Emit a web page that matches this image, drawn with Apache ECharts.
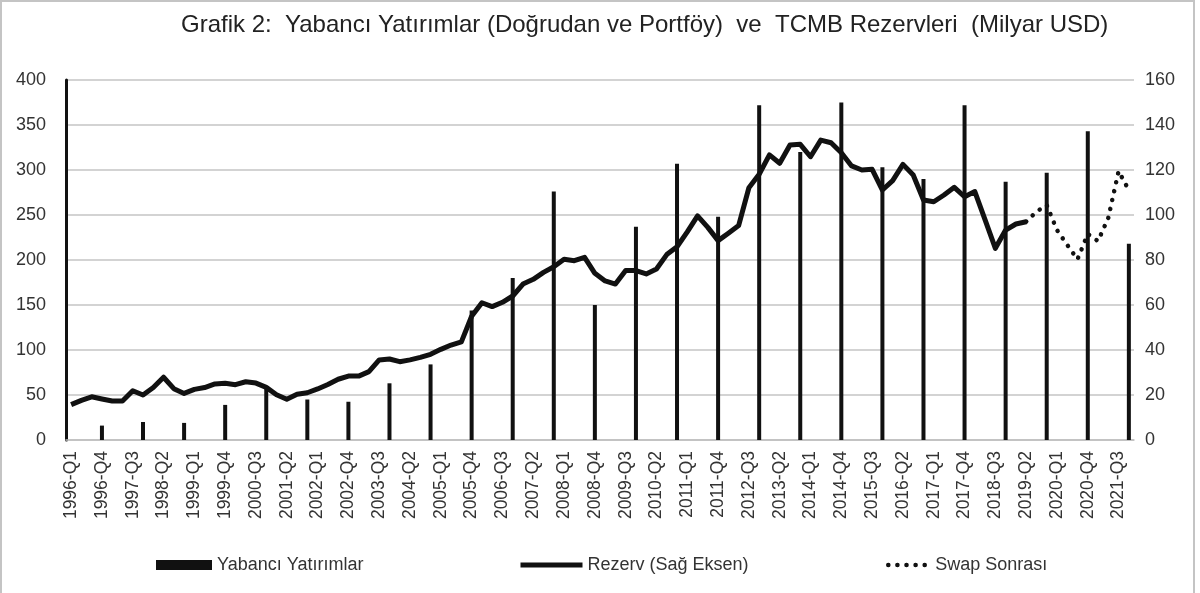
<!DOCTYPE html>
<html>
<head>
<meta charset="UTF-8">
<title>Grafik 2</title>
<style>
  html, body { margin: 0; padding: 0; background: #fff; }
  #chart { width: 1200px; height: 593px; }
</style>
<script src="https://cdn.jsdelivr.net/npm/echarts@6/dist/echarts.min.js"></script>
</head>
<body>
<div id="chart"></div>
<script>
// quarters 1996-Q1 ... 2021-Q4
var years = [1996, 1997, 1998, 1999, 2000, 2001, 2002, 2003, 2004, 2005, 2006, 2007, 2008,
             2009, 2010, 2011, 2012, 2013, 2014, 2015, 2016, 2017, 2018, 2019, 2020, 2021];
var quarters = [];
years.forEach(function (y) {
  ['Q1', 'Q2', 'Q3', 'Q4'].forEach(function (q) { quarters.push(y + '-' + q); });
});

// Yabancı Yatırımlar, one value per year (sol eksen, milyar USD)
var foreignInvest = [16, 20, 19, 39, 57, 45, 42.5, 63, 84, 144, 180, 276, 150,
                     237, 307, 248, 372, 320, 375, 303, 290, 372, 287, 297, 343, 218];

// Rezerv (sağ eksen), 1996-Q1 ... 2019-Q2
var reserve = [15.7, 17.6, 19.2, 18.2, 17.3, 17.3, 21.9, 20.0, 23.3, 27.9, 22.8, 20.7,
               22.5, 23.3, 24.9, 25.2, 24.6, 25.9, 25.3, 23.4, 20.1, 18.1, 20.3, 21.0,
               22.7, 24.7, 27.0, 28.4, 28.4, 30.4, 35.6, 36.0, 34.8, 35.6, 36.7, 38.1,
               40.3, 42.2, 43.6, 55.0, 61.0, 59.3, 61.2, 64.0, 69.3, 71.4, 74.5, 77.0,
               80.3, 79.7, 81.2, 74.1, 70.7, 69.3, 75.3, 75.3, 73.8, 76.0, 82.4, 85.9,
               92.5, 99.6, 94.5, 88.6, 91.9, 95.3, 112.1, 118.1, 126.7, 123.0, 131.1, 131.4,
               125.9, 133.3, 132.1, 127.7, 121.8, 120.0, 120.3, 111.1, 115.3, 122.5, 117.8, 106.7,
               105.9, 108.9, 112.3, 108.1, 110.4, 97.8, 85.2, 93.3, 96.0, 97.0];

// Swap Sonrası, 2019-Q2 ... 2021-Q4
var swapAfter = [97.0, 101.5, 104.4, 93.3, 86.7, 80.3, 91.6, 88.4, 98.8, 119.5, 111.0];

// place the yearly values on the Q4 slot of each year
var barData = quarters.map(function () { return null; });
foreignInvest.forEach(function (v, k) { barData[k * 4 + 3] = v; });

var reserveData = quarters.map(function (q, i) { return i < reserve.length ? reserve[i] : null; });
var swapStart = reserve.length - 1;
var swapData = quarters.map(function (q, i) {
  return (i >= swapStart && i < swapStart + swapAfter.length) ? swapAfter[i - swapStart] : null;
});

var txt = '#333';
var font = 'Liberation Sans, Arial, sans-serif';
var dotType = [0.1, 9];
var noSymbol = { opacity: 0, borderWidth: 0, color: 'transparent' };

var chart = echarts.init(document.getElementById('chart'));
chart.setOption({
  backgroundColor: '#fff',
  animation: false,
  textStyle: { fontFamily: font },
  title: {
    text: 'Grafik 2:  Yabancı Yatırımlar (Doğrudan ve Portföy)  ve  TCMB Rezervleri  (Milyar USD)',
    left: 176,
    top: 8,
    textStyle: { fontSize: 24, fontWeight: 'normal', color: '#222', fontFamily: font }
  },
  graphic: [{
    type: 'rect',
    shape: { x: 1, y: 1, width: 1193, height: 600 },
    style: { fill: 'none', stroke: '#c4c4c4', lineWidth: 2 },
    silent: true
  }],
  legend: [
    {
      data: ['Yabancı Yatırımlar'], left: 151, top: 551,
      icon: 'rect', itemWidth: 56, itemHeight: 10, itemGap: 0,
      textStyle: { fontSize: 18, color: txt }
    },
    {
      data: ['Rezerv (Sağ Eksen)'], left: 513, top: 551,
      itemWidth: 62, itemHeight: 10,
      lineStyle: { width: 5, color: '#111' },
      itemStyle: noSymbol,
      textStyle: { fontSize: 18, color: txt }
    },
    {
      data: ['Swap Sonrası'], left: 881, top: 551,
      itemWidth: 42, itemHeight: 10,
      lineStyle: { width: 4.5, color: '#111', type: dotType, cap: 'round' },
      itemStyle: noSymbol,
      textStyle: { fontSize: 18, color: txt }
    }
  ],
  grid: { left: 66, right: 66, top: 80, bottom: 153, containLabel: false, outerBoundsMode: 'none' },
  xAxis: {
    type: 'category',
    data: quarters,
    boundaryGap: true,
    axisLine: { lineStyle: { color: '#bfbfbf', width: 1.5 } },
    axisTick: { show: false },
    axisLabel: { interval: 2, rotate: 90, fontSize: 17.5, color: txt, margin: 11 }
  },
  yAxis: [
    {
      type: 'value', min: 0, max: 400, interval: 50,
      axisLine: { show: true, lineStyle: { color: '#111', width: 3 } },
      axisTick: { show: false },
      axisLabel: { fontSize: 18, color: txt, margin: 20 },
      splitLine: { lineStyle: { color: '#c4c4c4', width: 1.5 } }
    },
    {
      type: 'value', min: 0, max: 160, interval: 20,
      axisLine: { show: false },
      axisTick: { show: false },
      axisLabel: { fontSize: 18, color: txt, margin: 11 },
      splitLine: { show: false }
    }
  ],
  series: [
    {
      name: 'Yabancı Yatırımlar',
      type: 'bar',
      data: barData,
      barWidth: 4,
      itemStyle: { color: '#111' }
    },
    {
      name: 'Rezerv (Sağ Eksen)',
      type: 'line',
      yAxisIndex: 1,
      data: reserveData,
      symbol: 'none',
      connectNulls: false,
      lineStyle: { color: '#111', width: 5, join: 'round' },
      itemStyle: { color: '#111' }
    },
    {
      name: 'Swap Sonrası',
      type: 'line',
      yAxisIndex: 1,
      data: swapData,
      symbol: 'none',
      lineStyle: { color: '#111', width: 4.5, type: dotType, cap: 'round' },
      itemStyle: { color: '#111' }
    }
  ]
});
</script>
</body>
</html>
